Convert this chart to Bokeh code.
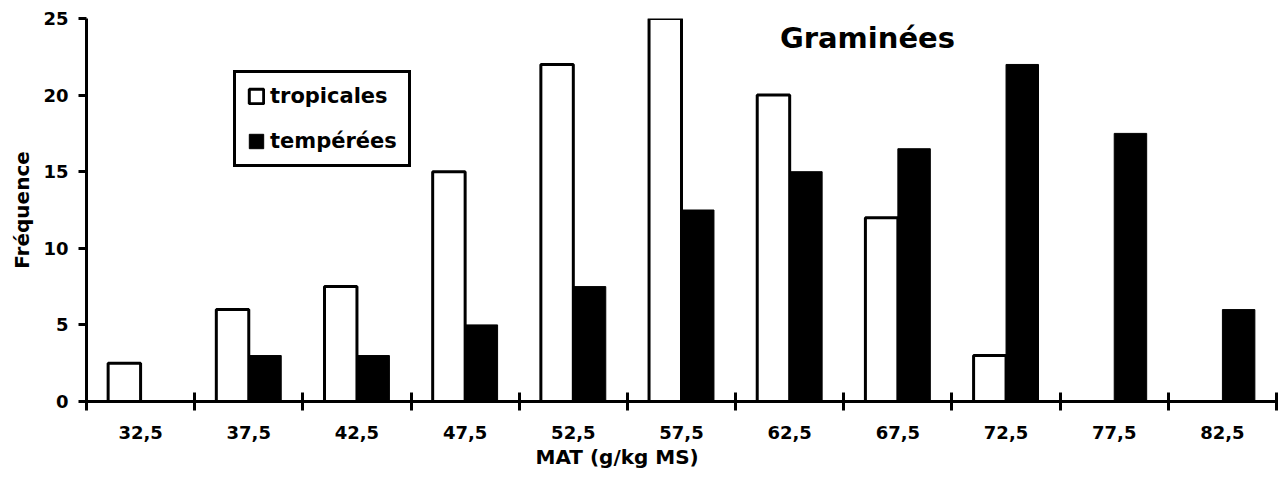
import numpy as np
from bokeh.plotting import figure
from bokeh.models import (Range1d, FixedTicker, Legend, LegendItem, Label, Title,
                          ColumnDataSource)
from bokeh.embed import file_html
from bokeh.resources import INLINE

# ---- data ----
categories = ["32,5", "37,5", "42,5", "47,5", "52,5", "57,5", "62,5", "67,5", "72,5", "77,5", "82,5"]
tropicales = [2.5, 6, 7.5, 15, 22, 25, 20, 12, 3, 0, 0]
temperees = [0, 3, 3, 5, 7.5, 12.5, 15, 16.5, 22, 17.5, 6]
y_ticks = [0, 5, 10, 15, 20, 25]
title_text = "Graminées"
x_label = "MAT (g/kg MS)"
y_label = "Fréquence"

FONT = "DejaVu Sans"
n = len(categories)
idx = np.arange(n)
bar_w = 0.3

src = ColumnDataSource(dict(
    x_trop=idx - bar_w / 2,
    x_temp=idx + bar_w / 2,
    trop=tropicales,
    temp=temperees,
))

p = figure(width=1278, height=486, output_backend="svg", toolbar_location=None,
           x_range=Range1d(-0.5, n - 0.5), y_range=Range1d(0, 25),
           min_border_left=86, min_border_right=2, min_border_top=18, min_border_bottom=85)
p.outline_line_color = None
p.xgrid.grid_line_color = None
p.ygrid.grid_line_color = None
p.background_fill_color = "white"
p.border_fill_color = "white"

r_trop = p.vbar(x="x_trop", top="trop", width=bar_w, source=src,
                fill_color="white", line_color="black", line_width=3)
r_temp = p.vbar(x="x_temp", top="temp", width=bar_w, source=src,
                fill_color="black", line_color="black", line_width=1)

# x axis
xa = p.xaxis[0]
xa.ticker = FixedTicker(ticks=list(idx), minor_ticks=list(np.arange(n + 1) - 0.5))
xa.major_label_overrides = {int(i): c for i, c in zip(idx, categories)}
xa.major_tick_line_color = None
xa.major_tick_out = 0
xa.major_tick_in = 0
xa.minor_tick_line_color = "black"
xa.minor_tick_line_width = 3
xa.minor_tick_in = 9
xa.minor_tick_out = 9
xa.axis_line_width = 3
xa.axis_line_color = "black"
xa.major_label_standoff = 15
xa.major_label_text_font = FONT
xa.major_label_text_font_style = "bold"
xa.major_label_text_font_size = "18px"
xa.major_label_text_color = "black"

# y axis
ya = p.yaxis[0]
ya.ticker = FixedTicker(ticks=y_ticks, minor_ticks=[])
ya.axis_line_width = 3
ya.axis_line_color = "black"
ya.major_tick_line_width = 3
ya.major_tick_line_color = "black"
ya.major_tick_out = 8
ya.major_tick_in = 0
ya.minor_tick_line_color = None
ya.major_label_standoff = 10
ya.major_label_text_font = FONT
ya.major_label_text_font_style = "bold"
ya.major_label_text_font_size = "18px"
ya.major_label_text_color = "black"
ya.axis_label = y_label
ya.axis_label_text_font = FONT
ya.axis_label_text_font_style = "bold"
ya.axis_label_text_font_size = "20px"
ya.axis_label_text_color = "black"
ya.axis_label_standoff = 6

# x axis label as a left-aligned title below
p.add_layout(Title(text=x_label, align="left", offset=449, standoff=3,
                   text_font=FONT, text_font_style="bold", text_font_size="20px",
                   text_color="black"), "below")

# chart title inside the frame
p.add_layout(Label(x=5.91, y=23.7, text=title_text, text_font=FONT,
                   text_font_style="bold", text_font_size="29px", text_color="black",
                   text_baseline="alphabetic", text_align="left"))

legend = Legend(items=[LegendItem(label="tropicales", renderers=[r_trop]),
                       LegendItem(label="tempérées", renderers=[r_temp])],
                location=(147, 234), orientation="vertical")
legend.border_line_color = "black"
legend.border_line_alpha = 1
legend.border_line_width = 3
legend.background_fill_color = "white"
legend.background_fill_alpha = 1
legend.label_text_font = FONT
legend.label_text_font_style = "bold"
legend.label_text_font_size = "21px"
legend.label_text_color = "black"
legend.glyph_width = 18
legend.glyph_height = 18
legend.label_standoff = 5
legend.padding = 11
legend.spacing = 21
legend.margin = 0
p.add_layout(legend, "center")

open("out.html", "w").write(file_html(p, INLINE))
